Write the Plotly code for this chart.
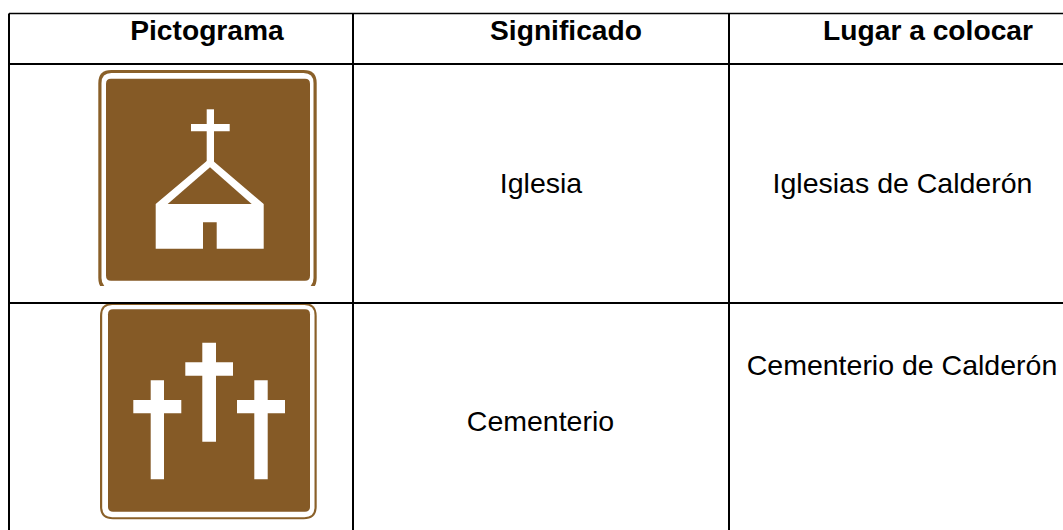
import plotly.graph_objects as go

# ---- table content ----
headers = ["Pictograma", "Significado", "Lugar a colocar"]
header_x = [207, 566, 928]
header_y = [33, 33, 33]
meanings = ["Iglesia", "Cementerio"]
meanings_x = [541, 540.5]
meanings_y = [186, 424]
places = ["Iglesias de Calderón", "Cementerio de Calderón"]
places_x = [902.5, 902]
places_y = [186, 368]

# ---- table rules (pixel scale of the page) ----
rule_columns = [9, 353, 729]
rule_rows = [13.5, 64, 303]
rule_row_widths = [1.5, 2, 2]
PAGE_W, PAGE_H = 1063, 530

# ---- pictograms ----
BROWN = "#855A26"
EDGE = "#8A6029"
church_frame = [98.3, 70, 316.7, 291]
church_ring = [101.5, 73, 313.5, 288]
church_panel = [106, 78.7, 310, 280.7]
church_cut = [94, 286, 322, 300]
church_cross_v = [206.7, 109.3, 214, 162]
church_cross_h = [191, 124, 229.7, 131.3]
church_body = [(210, 158.3), (263.7, 204), (263.7, 248.7), (216.7, 248.7), (216.7, 222.3),
               (203, 222.3), (203, 248.7), (155.7, 248.7), (155.7, 204)]
church_roof_gap = [(210, 167.3), (251.7, 204), (167.7, 204)]

cem_frame = [100, 303, 316.7, 519.3]
cem_ring = [102.2, 305, 314.5, 517.2]
cem_panel = [108, 309.3, 310, 511.7]
cem_crosses_v = [[202.3, 342.7, 216, 441.7], [150.7, 380.3, 164, 479.3], [254.3, 380.3, 267.7, 479.3]]
cem_crosses_h = [[185.3, 362.3, 233, 375.7], [133.3, 400, 181.3, 413.3], [237, 400, 285, 413.3]]


def rounded(box, r):
    x0, y0, x1, y1 = box
    return (f"M{x0+r},{y0} L{x1-r},{y0} Q{x1},{y0} {x1},{y0+r} L{x1},{y1-r} Q{x1},{y1} {x1-r},{y1} "
            f"L{x0+r},{y1} Q{x0},{y1} {x0},{y1-r} L{x0},{y0+r} Q{x0},{y0} {x0+r},{y0} Z")


def poly(points):
    return "M" + " L".join(f"{x},{y}" for x, y in points) + " Z"


def fill_path(path, color):
    return dict(type="path", path=path, fillcolor=color, line=dict(width=0), xref="x", yref="y")


def fill_rect(box, color):
    return dict(type="rect", x0=box[0], y0=box[1], x1=box[2], y1=box[3], fillcolor=color,
                line=dict(width=0), xref="x", yref="y")


shapes = [
    fill_path(rounded(church_frame, 13), EDGE),
    fill_path(rounded(church_ring, 10), "white"),
    fill_path(rounded(church_panel, 5), BROWN),
    fill_rect(church_cut, "white"),
    fill_rect(church_cross_v, "white"),
    fill_rect(church_cross_h, "white"),
    fill_path(poly(church_body), "white"),
    fill_path(poly(church_roof_gap), BROWN),
    fill_path(rounded(cem_frame, 13), EDGE),
    fill_path(rounded(cem_ring, 10), "white"),
    fill_path(rounded(cem_panel, 5), BROWN),
]
shapes += [fill_rect(b, "white") for b in cem_crosses_v + cem_crosses_h]

for x in rule_columns:
    shapes.append(dict(type="line", x0=x, x1=x, y0=rule_rows[0], y1=PAGE_H,
                       line=dict(color="black", width=2), xref="x", yref="y"))
for y, w in zip(rule_rows, rule_row_widths):
    shapes.append(dict(type="line", x0=rule_columns[0], x1=PAGE_W, y0=y, y1=y,
                       line=dict(color="black", width=w), xref="x", yref="y"))

fig = go.Figure()
fig.add_trace(go.Scatter(x=header_x, y=header_y, text=headers, mode="text", textposition="middle center",
                         textfont=dict(family="Liberation Sans", size=28.2, color="black", weight="bold"),
                         hoverinfo="skip", cliponaxis=False))
fig.add_trace(go.Scatter(x=meanings_x + places_x, y=meanings_y + places_y, text=meanings + places,
                         mode="text", textposition="middle center",
                         textfont=dict(family="Liberation Sans", size=28.5, color="black"),
                         hoverinfo="skip", cliponaxis=False))

fig.update_layout(
    width=PAGE_W, height=PAGE_H, margin=dict(l=0, r=0, t=0, b=0), showlegend=False,
    paper_bgcolor="white", plot_bgcolor="white", shapes=shapes,
    xaxis=dict(range=[0, PAGE_W], visible=False, fixedrange=True),
    yaxis=dict(range=[PAGE_H, 0], visible=False, fixedrange=True),
)
fig.write_html("out.html", config=dict(displayModeBar=False),
               post_script="document.body.style.margin='0';")
